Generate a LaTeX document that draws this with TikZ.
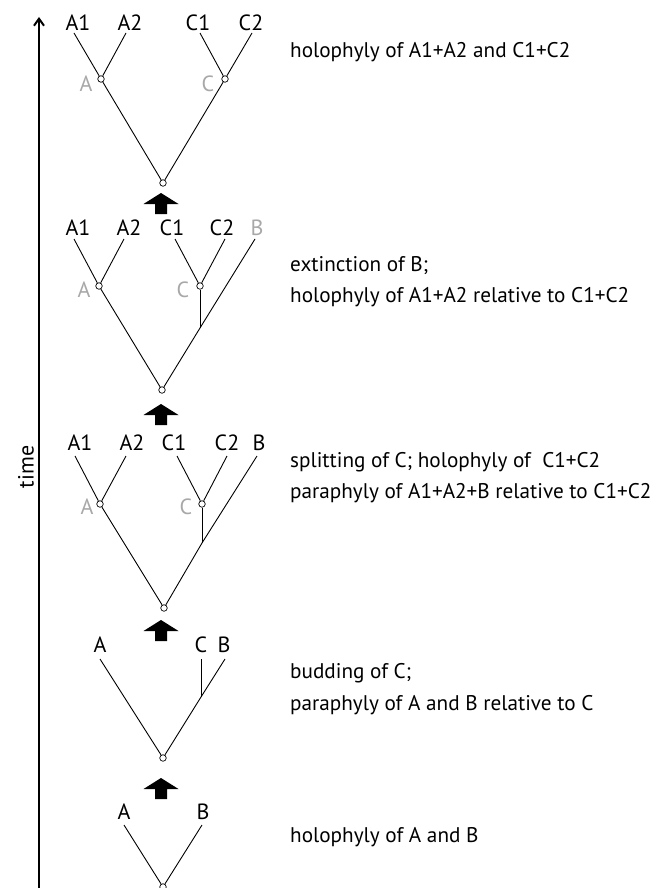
\documentclass[tikz,border=0pt]{standalone}
\usepackage{fontspec}
\setmainfont{PT Sans}
\usetikzlibrary{arrows.meta}
\definecolor{lightgrey}{gray}{0.66}
\tikzstyle{taxon} = [inner sep=0pt, font=\fontsize{22}{24}\selectfont]
\tikzstyle{ancestor} = [taxon, text=lightgrey]
\tikzstyle{split} = [circle, draw, fill=white, line width=0.7pt, minimum size=6.5pt, inner sep=0pt]
\tikzstyle{branch} = [draw, line width=0.9pt]
\tikzstyle{caption} = [inner sep=0pt, anchor=base west, font=\fontsize{21.2}{24}\selectfont]
\tikzstyle{timestep} = [fill=black]

\begin{document}
\begin{tikzpicture}[x=1pt, y=-1pt]
    \useasboundingbox (0,0) rectangle (667,888);
    % Draw the time axis.
    \coordinate (t0) at (39,888);
    \coordinate (t1) at (39,17);
    \draw [line width=2pt, -{Straight Barb[length=7pt, width=10pt]}] (t0) -- (t1);
    \node [taxon, rotate=90] (time) at (26,467) {time};

    % Stage 5: holophyly of A1+A2 and C1+C2.
    \node [taxon] (A1-5) at (78,23) {A1};
    \node [taxon] (A2-5) at (130,23) {A2};
    \node [taxon] (C1-5) at (198,23) {C1};
    \node [taxon] (C2-5) at (251,23) {C2};
    \coordinate (a1-5) at (74,33);
    \coordinate (a2-5) at (126,33);
    \coordinate (c1-5) at (200,33);
    \coordinate (c2-5) at (252,33);
    \node [split] (A-5) at (101,79) {};
    \node [split] (C-5) at (225,79) {};
    \node [split] (r-5) at (163,183) {};
    \node [ancestor] (gA-5) at (86,84) {A};
    \node [ancestor] (gC-5) at (208,84) {C};
    \path [branch] (r-5) -- (A-5) -- (a1-5);
    \path [branch] (A-5) -- (a2-5);
    \path [branch] (r-5) -- (C-5) -- (c2-5);
    \path [branch] (C-5) -- (c1-5);
    \node [caption] (txt-5) at (290,58) {holophyly of A1+A2 and C1+C2};

    % Stage 4: extinction of B.
    \fill [timestep] (143.5,204) -- (161,193) -- (178.5,204) -- (167,204) -- (167,214) -- (155,214) -- (155,204) -- cycle;
    \node [taxon] (A1-4) at (78,228) {A1};
    \node [taxon] (A2-4) at (129,228) {A2};
    \node [taxon] (C1-4) at (172,228) {C1};
    \node [taxon] (C2-4) at (222,228) {C2};
    \node [ancestor] (B-4) at (257,228) {B};
    \coordinate (a1-4) at (74,239);
    \coordinate (a2-4) at (124,239);
    \coordinate (c1-4) at (175,239);
    \coordinate (c2-4) at (225,239);
    \coordinate (b-4) at (255,239);
    \node [split] (A-4) at (99,286) {};
    \node [split] (C-4) at (200,286) {};
    \coordinate (cb-4) at (200,328);
    \node [split] (r-4) at (162,390) {};
    \node [ancestor] (gA-4) at (84,290) {A};
    \node [ancestor] (gC-4) at (183,290) {C};
    \path [branch] (r-4) -- (A-4) -- (a1-4);
    \path [branch] (A-4) -- (a2-4);
    \path [branch] (r-4) -- (cb-4) -- (b-4);
    \path [branch] (cb-4) -- (C-4);
    \path [branch] (C-4) -- (c1-4);
    \path [branch] (C-4) -- (c2-4);
    \node [caption] (txt-4a) at (290,271) {extinction of B;};
    \node [caption] (txt-4b) at (290,302) {holophyly of A1+A2 relative to C1+C2};

    % Stage 3: splitting of C.
    \fill [timestep] (143.5,415) -- (161,404) -- (178.5,415) -- (167,415) -- (167,425) -- (155,425) -- (155,415) -- cycle;
    \node [taxon] (A1-3) at (80,443) {A1};
    \node [taxon] (A2-3) at (132,443) {A2};
    \node [taxon] (C1-3) at (174,443) {C1};
    \node [taxon] (C2-3) at (227,443) {C2};
    \node [taxon] (B-3) at (259,443) {B};
    \coordinate (a1-3) at (75,456);
    \coordinate (a2-3) at (126,456);
    \coordinate (c1-3) at (177,456);
    \coordinate (c2-3) at (227,456);
    \coordinate (b-3) at (257,456);
    \node [split] (A-3) at (100,504) {};
    \node [split] (C-3) at (202,504) {};
    \coordinate (cb-3) at (202,543);
    \node [split] (r-3) at (164,608) {};
    \node [ancestor] (gA-3) at (87,507) {A};
    \node [ancestor] (gC-3) at (186,507) {C};
    \path [branch] (r-3) -- (A-3) -- (a1-3);
    \path [branch] (A-3) -- (a2-3);
    \path [branch] (r-3) -- (cb-3) -- (b-3);
    \path [branch] (cb-3) -- (C-3);
    \path [branch] (C-3) -- (c1-3);
    \path [branch] (C-3) -- (c2-3);
    \node [caption] (txt-3a) at (290,467) {splitting of C; holophyly of~ C1+C2};
    \node [caption] (txt-3b) at (290,498) {paraphyly of A1+A2+B relative to C1+C2};

    % Stage 2: budding of C.
    \fill [timestep] (143.5,631) -- (161,620) -- (178.5,631) -- (167,631) -- (167,641) -- (155,641) -- (155,631) -- cycle;
    \node [taxon] (A-2) at (100,645) {A};
    \node [taxon] (C-2) at (201,645) {C};
    \node [taxon] (B-2) at (224,645) {B};
    \coordinate (a-2) at (100,659);
    \coordinate (c-2) at (201,659);
    \coordinate (b-2) at (225,659);
    \coordinate (cb-2) at (201,697);
    \node [split] (r-2) at (163,758) {};
    \path [branch] (r-2) -- (a-2);
    \path [branch] (r-2) -- (cb-2) -- (b-2);
    \path [branch] (cb-2) -- (c-2);
    \node [caption] (txt-2a) at (290,678) {budding of C;};
    \node [caption] (txt-2b) at (290,710) {paraphyly of A and B relative to C};

    % Stage 1: holophyly of A and B.
    \fill [timestep] (143.5,789) -- (161,778) -- (178.5,789) -- (167,789) -- (167,799) -- (155,799) -- (155,789) -- cycle;
    \node [taxon] (A-1) at (124,812) {A};
    \node [taxon] (B-1) at (203,812) {B};
    \coordinate (a-1) at (124,825);
    \coordinate (b-1) at (202,825);
    \node [split] (r-1) at (163,887) {};
    \path [branch] (r-1) -- (a-1);
    \path [branch] (r-1) -- (b-1);
    \node [caption] (txt-1) at (290,842) {holophyly of A and B};
\end{tikzpicture}
\end{document}
